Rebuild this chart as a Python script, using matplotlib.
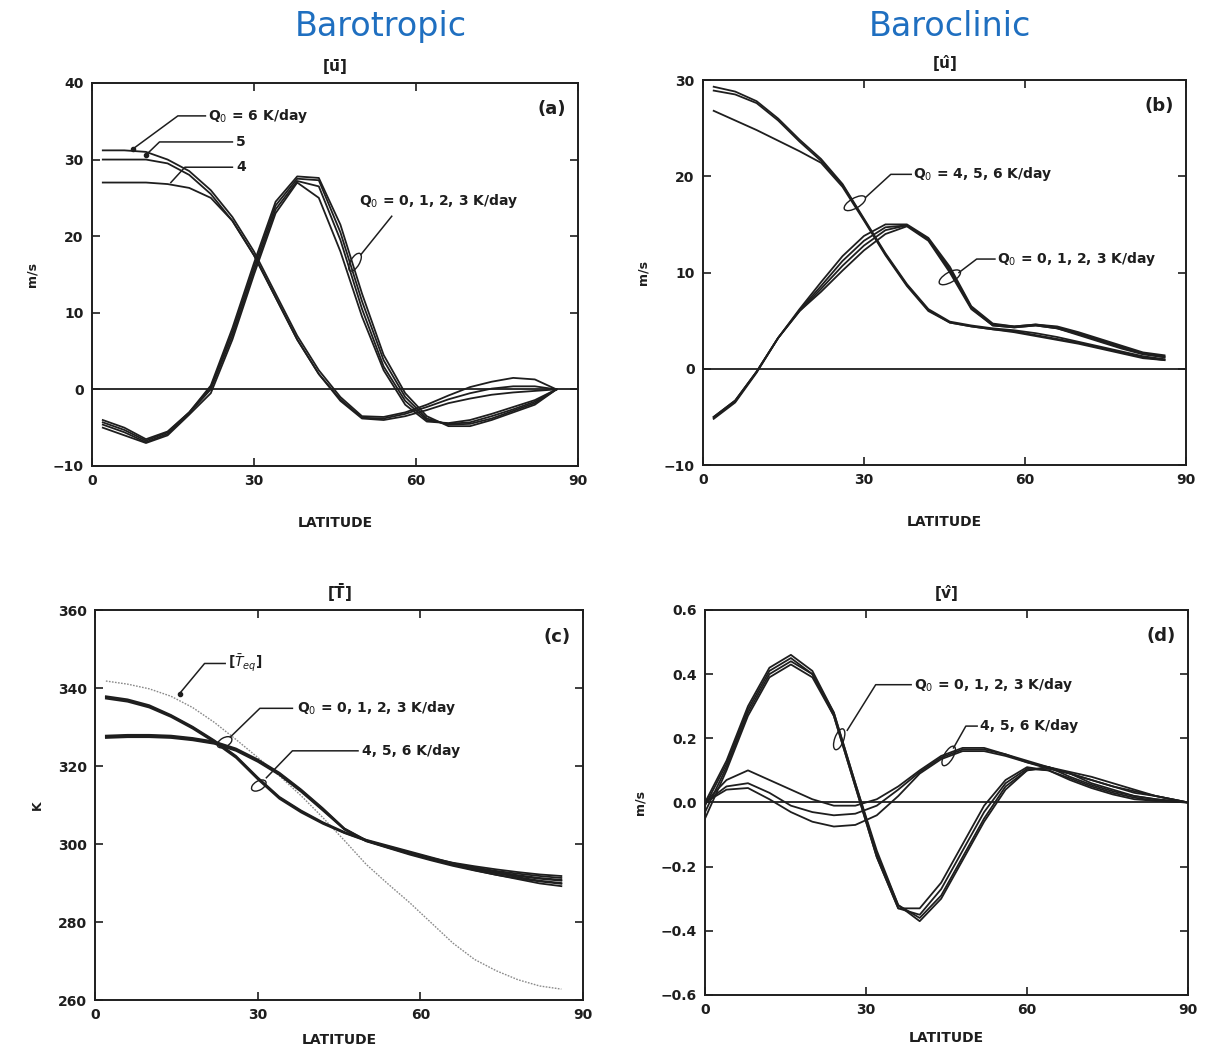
import matplotlib.pyplot as plt
from matplotlib.patches import Ellipse
from matplotlib.transforms import ScaledTranslation

# latitude grids
lat = [2, 6, 10, 14, 18, 22, 26, 30, 34, 38, 42, 46, 50, 54, 58, 62, 66, 70, 74, 78, 82, 86]
lat_d = [0, 4, 8, 12, 16, 20, 24, 28, 32, 36, 40, 44, 48, 52, 56, 60, 64, 68, 72, 76, 80, 84, 90]

# (a) barotropic [u], m/s
a_q0 = [-4.0, -5.0, -6.5, -5.5, -3.0, 0.5, 8.0, 16.5, 24.5, 27.8, 27.6, 21.5, 12.5, 4.5, -0.5, -3.5, -4.8, -4.8, -4.0, -3.0, -2.0, 0.0]
a_q1 = [-4.3, -5.3, -6.7, -5.6, -3.0, 0.3, 7.5, 16.0, 24.0, 27.5, 27.3, 20.5, 11.5, 3.8, -1.0, -3.8, -4.6, -4.5, -3.8, -2.8, -1.8, 0.0]
a_q2 = [-4.6, -5.6, -6.9, -5.8, -3.1, 0.0, 7.0, 15.5, 23.5, 27.2, 26.5, 19.5, 10.5, 3.0, -1.5, -4.0, -4.5, -4.3, -3.5, -2.6, -1.6, 0.0]
a_q3 = [-5.0, -6.0, -7.0, -6.0, -3.3, -0.5, 6.5, 15.0, 23.0, 27.0, 25.0, 18.0, 9.5, 2.5, -2.0, -4.2, -4.4, -4.0, -3.2, -2.3, -1.4, 0.0]
a_q4 = [27.0, 27.0, 27.0, 26.8, 26.3, 25.0, 22.0, 17.5, 12.0, 6.5, 2.0, -1.5, -3.8, -4.0, -3.5, -2.7, -1.8, -1.2, -0.7, -0.4, -0.2, 0.0]
a_q5 = [30.0, 30.0, 30.0, 29.5, 28.0, 25.5, 22.0, 17.5, 12.0, 6.5, 2.0, -1.3, -3.7, -3.8, -3.2, -2.3, -1.3, -0.5, 0.1, 0.4, 0.4, 0.0]
a_q6 = [31.2, 31.2, 31.0, 30.0, 28.5, 26.0, 22.5, 18.0, 12.5, 7.0, 2.5, -1.0, -3.5, -3.6, -3.0, -2.0, -0.8, 0.3, 1.0, 1.5, 1.3, 0.0]

# (b) baroclinic [u^], m/s
b_q0 = [-5.0, -3.3, -0.3, 3.2, 6.0, 8.0, 10.2, 12.3, 14.0, 14.8, 13.3, 10.0, 6.2, 4.5, 4.3, 4.5, 4.2, 3.5, 2.8, 2.1, 1.5, 1.2]
b_q1 = [-5.0, -3.3, -0.3, 3.2, 6.0, 8.3, 10.7, 12.8, 14.4, 14.9, 13.4, 10.2, 6.3, 4.5, 4.3, 4.5, 4.2, 3.6, 2.9, 2.2, 1.6, 1.2]
b_q2 = [-5.1, -3.4, -0.3, 3.2, 6.1, 8.6, 11.2, 13.3, 14.7, 14.9, 13.5, 10.4, 6.4, 4.6, 4.4, 4.6, 4.3, 3.7, 3.0, 2.3, 1.6, 1.3]
b_q3 = [-5.2, -3.5, -0.4, 3.2, 6.2, 9.0, 11.7, 13.8, 15.0, 15.0, 13.6, 10.6, 6.5, 4.7, 4.4, 4.6, 4.4, 3.8, 3.1, 2.4, 1.7, 1.4]
b_q4 = [26.8, 25.8, 24.8, 23.7, 22.6, 21.4, 18.9, 15.4, 11.8, 8.6, 6.0, 4.8, 4.4, 4.1, 3.8, 3.4, 3.0, 2.6, 2.1, 1.6, 1.1, 0.9]
b_q5 = [28.9, 28.5, 27.6, 25.8, 23.6, 21.6, 19.1, 15.5, 11.9, 8.7, 6.1, 4.8, 4.4, 4.1, 3.9, 3.5, 3.1, 2.7, 2.2, 1.7, 1.2, 0.9]
b_q6 = [29.3, 28.8, 27.8, 26.0, 23.8, 21.8, 19.2, 15.6, 12.0, 8.8, 6.2, 4.9, 4.5, 4.2, 4.0, 3.7, 3.3, 2.8, 2.3, 1.8, 1.3, 1.0]

# (c) [T], K
t_eq = [341.8, 341.0, 339.8, 337.9, 335.0, 331.2, 326.8, 322.2, 317.5, 312.4, 306.8, 300.9, 294.8, 289.8, 285.0, 279.8, 274.6, 270.4, 267.5, 265.2, 263.6, 262.8]
c_q0 = [327.8, 328.0, 328.0, 327.8, 327.2, 326.3, 324.5, 321.7, 318.3, 314.0, 309.2, 304.0, 301.0, 299.3, 297.8, 296.4, 295.2, 294.3, 293.5, 292.8, 292.2, 291.8]
c_q1 = [327.6, 327.8, 327.8, 327.6, 327.0, 326.1, 324.3, 321.5, 318.1, 313.8, 309.0, 303.9, 300.9, 299.2, 297.6, 296.2, 295.0, 294.0, 293.1, 292.4, 291.8, 291.3]
c_q2 = [327.4, 327.6, 327.6, 327.4, 326.8, 325.9, 324.1, 321.3, 317.9, 313.6, 308.8, 303.8, 300.8, 299.1, 297.5, 296.0, 294.7, 293.6, 292.6, 291.8, 291.1, 290.6]
c_q3 = [327.2, 327.4, 327.4, 327.2, 326.6, 325.7, 323.9, 321.1, 317.7, 313.4, 308.6, 303.7, 300.7, 299.0, 297.3, 295.8, 294.4, 293.2, 292.1, 291.2, 290.4, 289.8]
c_q4 = [337.9, 337.1, 335.6, 333.1, 330.1, 326.6, 322.6, 317.1, 312.1, 308.6, 305.6, 303.1, 301.1, 299.6, 298.1, 296.6, 295.1, 293.9, 292.9, 292.0, 291.3, 290.8]
c_q5 = [337.6, 336.8, 335.3, 332.9, 329.9, 326.4, 322.4, 316.9, 311.9, 308.4, 305.4, 302.9, 300.9, 299.4, 297.9, 296.4, 294.9, 293.6, 292.5, 291.5, 290.6, 290.0]
c_q6 = [337.3, 336.5, 335.0, 332.6, 329.6, 326.1, 322.1, 316.6, 311.6, 308.1, 305.2, 302.8, 300.8, 299.3, 297.7, 296.2, 294.7, 293.3, 292.1, 291.0, 289.9, 289.2]

# (d) baroclinic [v^], m/s
d_q0 = [0.00, 0.13, 0.30, 0.42, 0.46, 0.41, 0.28, 0.06, -0.15, -0.32, -0.37, -0.30, -0.18, -0.06, 0.04, 0.10, 0.11, 0.09, 0.06, 0.04, 0.02, 0.01, 0.0]
d_q1 = [-0.01, 0.12, 0.29, 0.41, 0.45, 0.40, 0.28, 0.06, -0.16, -0.32, -0.36, -0.29, -0.17, -0.05, 0.05, 0.10, 0.11, 0.08, 0.055, 0.035, 0.02, 0.01, 0.0]
d_q2 = [-0.03, 0.11, 0.28, 0.40, 0.44, 0.40, 0.27, 0.05, -0.17, -0.33, -0.35, -0.27, -0.15, -0.03, 0.06, 0.105, 0.10, 0.075, 0.05, 0.03, 0.015, 0.005, 0.0]
d_q3 = [-0.05, 0.10, 0.27, 0.39, 0.43, 0.39, 0.27, 0.05, -0.17, -0.33, -0.33, -0.25, -0.13, -0.01, 0.07, 0.11, 0.10, 0.07, 0.045, 0.025, 0.01, 0.005, 0.0]
d_q4 = [0.00, 0.07, 0.10, 0.07, 0.04, 0.01, -0.01, -0.01, 0.01, 0.05, 0.10, 0.145, 0.17, 0.17, 0.15, 0.13, 0.11, 0.09, 0.07, 0.05, 0.03, 0.02, 0.0]
d_q5 = [0.00, 0.05, 0.06, 0.03, -0.01, -0.03, -0.04, -0.035, -0.01, 0.04, 0.095, 0.14, 0.165, 0.165, 0.15, 0.125, 0.105, 0.09, 0.07, 0.05, 0.035, 0.02, 0.0]
d_q6 = [0.00, 0.04, 0.045, 0.01, -0.03, -0.06, -0.075, -0.07, -0.04, 0.02, 0.09, 0.135, 0.16, 0.16, 0.145, 0.125, 0.11, 0.095, 0.08, 0.06, 0.04, 0.02, 0.0]

ink = '#1e1e1e'
blue = '#1f6fc0'
plt.rcParams['font.family'] = ['DejaVu Sans']

fig = plt.figure(figsize=(12.2, 10.5), dpi=100)
ax_a = fig.add_axes([0.0754, 0.5562, 0.3984, 0.3648])
ax_b = fig.add_axes([0.5762, 0.5571, 0.3959, 0.3667])
ax_c = fig.add_axes([0.0779, 0.0476, 0.4000, 0.3714])
ax_d = fig.add_axes([0.5779, 0.0524, 0.3959, 0.3667])


def frame(ax, ylim, yticks, ylabels, title, tag, ylabel, xpad):
    ax.set_xlim(0, 90)
    ax.set_ylim(*ylim)
    ax.set_xticks([0, 30, 60, 90])
    ax.set_yticks(yticks)
    ax.set_yticklabels(ylabels)
    ax.tick_params(direction='in', length=6, width=1.2, top=True, right=True,
                   labelsize=10, colors=ink, pad=6)
    for lab in ax.get_xticklabels() + ax.get_yticklabels():
        lab.set_fontweight('bold')
    for s in ax.spines.values():
        s.set_linewidth(1.4)
        s.set_color(ink)
    ax.set_title(title, fontsize=11, fontweight='bold', color=ink, pad=8)
    ax.text(0.975, 0.955, tag, transform=ax.transAxes, ha='right', va='top',
            fontsize=13, fontweight='bold', color=ink)
    ax.set_xlabel('LATITUDE', fontsize=10, fontweight='bold', color=ink, labelpad=xpad)
    ax.set_ylabel(ylabel, fontsize=9, fontweight='bold', color=ink, labelpad=10)


def leader(ax, text, tx, ty, pts, fs=10):
    xs = [p[0] for p in pts]
    ys = [p[1] for p in pts]
    ax.plot(xs, ys, color=ink, lw=1.1)
    ax.text(tx, ty, text, fontsize=fs, fontweight='bold', color=ink, va='center', ha='left')


def loop(ax, x, y, w_px, h_px, ang):
    # small hand-drawn style loop, sized in pixels and centred on a data point
    tr = fig.dpi_scale_trans + ScaledTranslation(x, y, ax.transData)
    ax.add_patch(Ellipse((0, 0), w_px / 100, h_px / 100, angle=ang, fill=False,
                         ec=ink, lw=1.0, transform=tr))


# ---- (a)
for s in [a_q0, a_q1, a_q2, a_q3, a_q4, a_q5, a_q6]:
    ax_a.plot(lat, s, color=ink, lw=1.3)
ax_a.axhline(0, color=ink, lw=1.3)
frame(ax_a, (-10, 40), [-10, 0, 10, 20, 30, 40], ['\u221210', '0', '10', '20', '30', '40'],
      '[$\\mathbf{\\bar{u}}$]', '(a)', 'm/s', 20)
leader(ax_a, 'Q$_0$ = 6 K/day', 21.5, 35.7, [(21, 35.7), (15.9, 35.7), (7.6, 31.4)])
ax_a.plot([7.6], [31.4], marker='o', ms=3, color=ink)
leader(ax_a, '5', 26.7, 32.3, [(26, 32.3), (12.5, 32.3), (10.0, 30.6)])
ax_a.plot([10.0], [30.6], marker='o', ms=3, color=ink)
leader(ax_a, '4', 26.7, 29.0, [(26, 29.0), (17.2, 29.0), (14.6, 27.0)])
leader(ax_a, 'Q$_0$ = 0, 1, 2, 3 K/day', 49.5, 24.6, [(55.5, 22.6), (49.8, 17.6)])
loop(ax_a, 48.7, 16.6, 20, 9, 60)

# ---- (b)
for s in [b_q0, b_q1, b_q2, b_q3, b_q4, b_q5, b_q6]:
    ax_b.plot(lat, s, color=ink, lw=1.3)
ax_b.axhline(0, color=ink, lw=1.3)
frame(ax_b, (-10, 30), [-10, 0, 10, 20, 30], ['\u221210', '0', '10', '20', '30'],
      '[$\\mathbf{\\hat{u}}$]', '(b)', 'm/s', 20)
leader(ax_b, 'Q$_0$ = 4, 5, 6 K/day', 39.2, 20.2, [(38.8, 20.2), (35.0, 20.2), (30.3, 17.8)])
loop(ax_b, 28.3, 17.2, 24, 10, 30)
leader(ax_b, 'Q$_0$ = 0, 1, 2, 3 K/day', 54.8, 11.4, [(54.4, 11.4), (51.0, 11.4), (47.7, 10.0)])
loop(ax_b, 46.0, 9.5, 24, 10, 30)

# ---- (c)
ax_c.plot(lat, t_eq, color='#8a8a8a', lw=1.0, ls=(0, (1.2, 1.0)))
for s in [c_q0, c_q1, c_q2, c_q3, c_q4, c_q5, c_q6]:
    ax_c.plot(lat, s, color=ink, lw=1.3)
frame(ax_c, (260, 360), [260, 280, 300, 320, 340, 360],
      ['260', '280', '300', '320', '340', '360'], '[$\\mathbf{\\bar{T}}$]', '(c)', 'K', 8)
leader(ax_c, '[$\\bar{T}_{eq}$]', 24.5, 346.3, [(24.0, 346.3), (20.2, 346.3), (15.6, 338.6)])
ax_c.plot([15.6], [338.6], marker='o', ms=3, color=ink)
leader(ax_c, 'Q$_0$ = 0, 1, 2, 3 K/day', 37.2, 334.8, [(36.4, 334.8), (30.4, 334.8), (25.0, 327.5)])
loop(ax_c, 23.9, 326.1, 16, 9, 30)
leader(ax_c, '4, 5, 6 K/day', 49.2, 323.9, [(48.5, 323.9), (36.4, 323.9), (31.6, 317.0)])
loop(ax_c, 30.2, 315.0, 16, 9, 30)

# ---- (d)
for s in [d_q0, d_q1, d_q2, d_q3, d_q4, d_q5, d_q6]:
    ax_d.plot(lat_d, s, color=ink, lw=1.3)
ax_d.axhline(0, color=ink, lw=1.3)
frame(ax_d, (-0.6, 0.6), [-0.6, -0.4, -0.2, 0.0, 0.2, 0.4, 0.6],
      ['\u22120.6', '\u22120.4', '\u22120.2', '0.0', '0.2', '0.4', '0.6'],
      '[$\\mathbf{\\hat{v}}$]', '(d)', 'm/s', 10)
leader(ax_d, 'Q$_0$ = 0, 1, 2, 3 K/day', 39.0, 0.367, [(38.4, 0.367), (31.8, 0.367), (26.5, 0.225)])
loop(ax_d, 25.0, 0.197, 9, 22, -20)
leader(ax_d, '4, 5, 6 K/day', 51.3, 0.238, [(50.7, 0.238), (48.6, 0.238), (46.3, 0.17)])
loop(ax_d, 45.4, 0.145, 9, 22, -30)

fig.text(0.312, 0.975, 'Barotropic', color=blue, fontsize=24, ha='center', va='center')
fig.text(0.779, 0.975, 'Baroclinic', color=blue, fontsize=24, ha='center', va='center')

fig.savefig('out.png', dpi=100, facecolor='white')
